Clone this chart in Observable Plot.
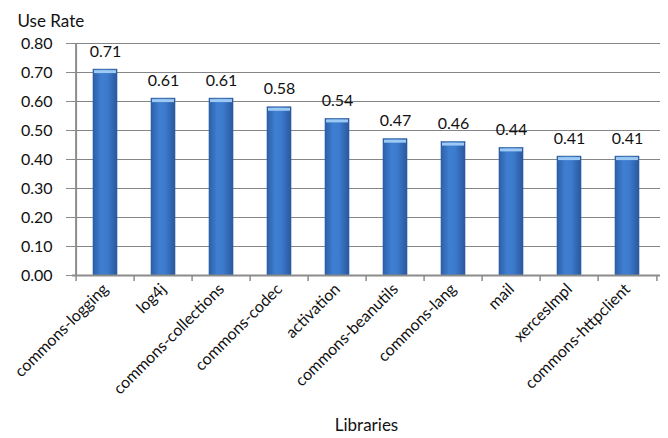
<!DOCTYPE html>
<html>
<head>
<meta charset="utf-8">
<script src="https://cdn.jsdelivr.net/npm/d3@7"></script>
<script src="https://cdn.jsdelivr.net/npm/@observablehq/plot@0.6"></script>
<style>
  html, body { margin: 0; padding: 0; background: #fff; }
</style>
</head>
<body>
<div id="chart"></div>
<script>
const categories = ["commons-logging", "log4j", "commons-collections", "commons-codec", "activation", "commons-beanutils", "commons-lang", "mail", "xercesImpl", "commons-httpclient"];
const values = [0.71, 0.61, 0.61, 0.58, 0.54, 0.47, 0.46, 0.44, 0.41, 0.41];
const yTicks = [0, 0.1, 0.2, 0.3, 0.4, 0.5, 0.6, 0.7, 0.8];
const yTitle = "Use Rate";
const xTitle = "Libraries";

const data = categories.map((name, i) => ({name, value: values[i]}));

const W = 668, H = 438, mL = 72, mR = 8, mT = 43, mB = 163;
const step = (W - mL - mR) / categories.length;
const pad = 0.59;

const chart = Plot.plot({
  width: W, height: H,
  marginLeft: mL, marginRight: mR, marginTop: mT, marginBottom: mB,
  style: {fontFamily: "Lato, 'Open Sans', sans-serif", fontSize: "16px", color: "#111", background: "#fff"},
  x: {domain: categories, paddingInner: pad, paddingOuter: pad / 2, label: null},
  y: {domain: [0, 0.8], label: null},
  marks: [
    Plot.gridY(yTicks, {stroke: "#868686", strokeOpacity: 1, strokeWidth: 1}),
    Plot.barY(data, {x: "name", y: "value", fill: "url(#barGrad)", stroke: "#2c5c9c", strokeWidth: 0.6}),
    Plot.tickY(data, {x: "name", y: "value", stroke: "#9ccaf4", strokeWidth: 3, dy: 2, inset: 1}),
    Plot.text(data, {x: "name", y: "value", text: d => d.value.toFixed(2), dy: -18, fontSize: 16, fill: "#111"}),
    Plot.ruleY([0], {stroke: "#8c8c8c", strokeWidth: 2}),
    Plot.ruleX([categories[0]], {y1: 0, y2: 0.8, dx: -step / 2, stroke: "#8c8c8c", strokeWidth: 2}),
    Plot.ruleX(categories, {y1: 0, y2: 0, insetBottom: -6, dx: -step / 2, stroke: "#8c8c8c", strokeWidth: 1.5}),
    Plot.ruleX([categories[categories.length - 1]], {y1: 0, y2: 0, insetBottom: -6, dx: step / 2, stroke: "#8c8c8c", strokeWidth: 1.5}),
    Plot.axisY(yTicks, {tickFormat: d => d.toFixed(2), tickSize: 6, tickPadding: 14, stroke: "#8c8c8c", fill: "#111", label: null, fontSize: 16}),
    Plot.axisX({tickRotate: -45, tickSize: 0, tickPadding: 11, fontSize: 16, fill: "#111", label: null}),
    Plot.text([yTitle], {frameAnchor: "top-left", dx: -mL + 17, dy: -mT + 14, textAnchor: "start", fontSize: 17, fill: "#111"}),
    Plot.text([xTitle], {frameAnchor: "bottom", dy: 155, fontSize: 17, fill: "#111"})
  ]
});

const ns = "http://www.w3.org/2000/svg";
const defs = document.createElementNS(ns, "defs");
defs.innerHTML = `<linearGradient id="barGrad" x1="0" x2="1" y1="0" y2="0">
  <stop offset="0" stop-color="#2d5fa8"/>
  <stop offset="0.35" stop-color="#3f7fd2"/>
  <stop offset="0.6" stop-color="#3c7acc"/>
  <stop offset="1" stop-color="#2a589e"/>
</linearGradient>`;
chart.insertBefore(defs, chart.firstChild);
document.getElementById("chart").appendChild(chart);
</script>
</body>
</html>
